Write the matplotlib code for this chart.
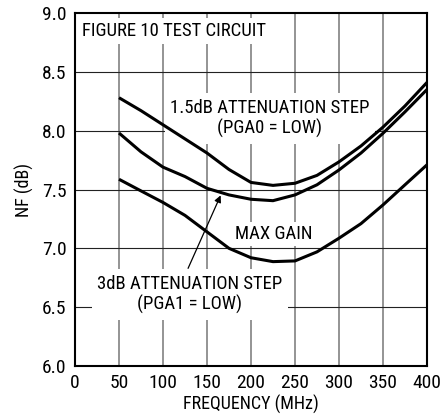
import matplotlib
matplotlib.use("Agg")
import matplotlib.pyplot as plt
from matplotlib import font_manager

names = {f.name for f in font_manager.fontManager.ttflist}
fam = [n for n in ["Roboto Condensed", "PT Sans Narrow", "Liberation Sans", "DejaVu Sans"] if n in names]
plt.rcParams['font.family'] = fam

freq = [50, 75, 100, 125, 150, 175, 200, 225, 250, 275, 300, 325, 350, 375, 400]
nf_15db = [8.28, 8.17, 8.05, 7.93, 7.81, 7.67, 7.56, 7.535, 7.553, 7.62, 7.735, 7.87, 8.03, 8.21, 8.41]
nf_3db = [7.98, 7.82, 7.69, 7.61, 7.51, 7.454, 7.417, 7.405, 7.454, 7.54, 7.666, 7.81, 7.978, 8.16, 8.35]
nf_max = [7.587, 7.488, 7.39, 7.28, 7.14, 7.0, 6.92, 6.887, 6.893, 6.97, 7.086, 7.21, 7.369, 7.54, 7.71]

xticks = [0, 50, 100, 150, 200, 250, 300, 350, 400]
yticks = [6.0, 6.5, 7.0, 7.5, 8.0, 8.5, 9.0]

fig = plt.figure(figsize=(4.41, 4.19), dpi=100)
ax = fig.add_axes([75/441, 1 - 366/419, 352/441, 353/419])
ax.set_xlim(0, 400)
ax.set_ylim(6.0, 9.0)

for x in xticks[1:-1]:
    ax.axvline(x, color='#777777', lw=1.1, zorder=1)
for y in yticks[1:-1]:
    ax.axhline(y, color='#222222', lw=0.8, zorder=1)

for ys in (nf_15db, nf_3db, nf_max):
    ax.plot(freq, ys, color='black', lw=2.2, zorder=4, solid_capstyle='butt')

fs = 13.5
ax.text(8, 8.85, "FIGURE 10 TEST CIRCUIT", fontsize=fs, ha='left', va='center',
        bbox=dict(facecolor='white', edgecolor='none', pad=3), zorder=3)
ax.text(221.5, 8.105, "1.5dB ATTENUATION STEP\n(PGA0 = LOW)", fontsize=fs, ha='center',
        va='center', linespacing=1.15, bbox=dict(facecolor='white', edgecolor='none', pad=4), zorder=3)
ax.text(225.5, 7.12, "MAX GAIN", fontsize=fs, ha='center', va='center',
        bbox=dict(facecolor='white', edgecolor='none', pad=2), zorder=3)
ax.text(130.5, 6.61, "3dB ATTENUATION STEP\n(PGA1 = LOW)", fontsize=fs, ha='center',
        va='center', linespacing=1.15, bbox=dict(facecolor='white', edgecolor='none', pad=4), zorder=3)
ax.annotate("", xy=(165.5, 7.45), xytext=(128.5, 6.83),
            arrowprops=dict(arrowstyle='-|>', color='black', lw=0.9,
                            mutation_scale=10, shrinkA=0, shrinkB=0), zorder=5)

ax.set_xticks(xticks)
ax.set_yticks(yticks)
ax.set_xticklabels([str(x) for x in xticks], fontsize=14)
ax.set_yticklabels([f"{y:.1f}" for y in yticks], fontsize=14)
ax.tick_params(length=0, pad=6)
for s in ax.spines.values():
    s.set_linewidth(1.5)
    s.set_zorder(6)
ax.set_xlabel("FREQUENCY (MHz)", fontsize=13, labelpad=2)
ax.set_ylabel("NF (dB)", fontsize=13, labelpad=6)

fig.savefig("out.png", dpi=100)
